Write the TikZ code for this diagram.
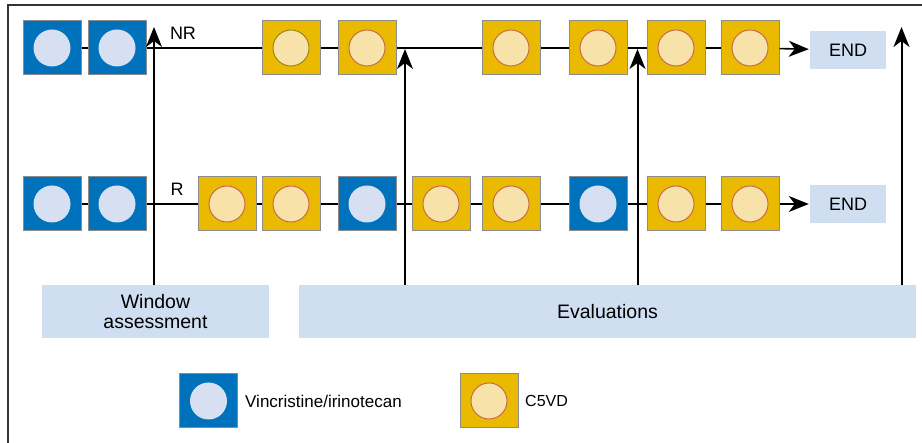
\documentclass[tikz,border=0pt]{standalone}
\usepackage{fontspec}
\setmainfont{Liberation Sans}
\usetikzlibrary{arrows.meta}

\definecolor{vblue}{RGB}{0,114,187}
\definecolor{vlight}{RGB}{214,224,242}
\definecolor{cgold}{RGB}{234,186,0}
\definecolor{clight}{RGB}{247,226,170}
\definecolor{cring}{RGB}{200,96,74}
\definecolor{cringolive}{RGB}{150,125,20}
\definecolor{boxfill}{RGB}{207,222,240}
\definecolor{sqedge}{RGB}{140,140,140}

\tikzset{
  sqnode/.style={draw=sqedge, line width=1pt, minimum width=58pt, minimum height=54pt, inner sep=0pt},
  vi/.style={sqnode, fill=vblue,
    path picture={\fill[vlight] (path picture bounding box.center) circle (18.5pt);}},
  cv/.style={sqnode, fill=cgold,
    path picture={\filldraw[fill=clight, draw=#1, line width=0.9pt] (path picture bounding box.center) circle (18pt);}},
  cv/.default=cring,
  endbox/.style={fill=boxfill, minimum width=76pt, minimum height=38pt, inner sep=0pt,
    font=\fontsize{18}{20}\selectfont},
  evbox/.style={fill=boxfill, minimum height=53pt, inner sep=0pt, align=center,
    font=\fontsize{19.5}{22}\selectfont},
  link/.style={line width=1.6pt},
  head/.style={-{Stealth[length=20pt,width=16pt,inset=6pt]}},
  tip/.style={line width=1.6pt, head},
  varrow/.style={line width=2pt, head},
  lbl/.style={font=\fontsize{18}{20}\selectfont, inner sep=0pt},
  legend/.style={inner sep=0pt, anchor=west},
}

\begin{document}
\begin{tikzpicture}[x=1pt, y=-1pt]
  \useasboundingbox (0,0) rectangle (922,443);

  % outer frame (top and left edges)
  \draw[line width=1.3pt, black!80] (8,443) -- (8,5) -- (922,5);

  % assessment boxes
  \node[evbox, minimum width=227pt] (win) at (155.5,311.5) {Window\\[-2pt]assessment};
  \node[evbox, minimum width=617pt] (eval) at (607.5,311.5) {Evaluations};

  % end boxes
  \node[endbox] (end1) at (848,50) {END};
  \node[endbox] (end2) at (848,204) {END};

  % non-responder arm
  \node[vi] (a1) at (52,48) {};
  \node[vi] (a2) at (117,48) {};
  \node[cv=cringolive] (a3) at (291,48) {};
  \node[cv] (a4) at (367,48) {};
  \node[cv] (a5) at (511,48) {};
  \node[cv] (a6) at (598,48) {};
  \node[cv] (a7) at (676,48) {};
  \node[cv] (a8) at (750,48) {};

  % responder arm
  \node[vi] (b1) at (52,204) {};
  \node[vi] (b2) at (117,204) {};
  \node[cv] (b3) at (227,204) {};
  \node[cv] (b4) at (291,204) {};
  \node[vi] (b5) at (367,204) {};
  \node[cv] (b6) at (441,204) {};
  \node[cv] (b7) at (511,204) {};
  \node[vi] (b8) at (598,204) {};
  \node[cv] (b9) at (676,204) {};
  \node[cv] (b10) at (750,204) {};

  % chain links
  \foreach \p/\q in {a1/a2,a2/a3,a3/a4,a4/a5,a5/a6,a6/a7,a7/a8,
                     b1/b2,b2/b3,b3/b4,b4/b5,b5/b6,b6/b7,b7/b8,b8/b9,b9/b10}
    \draw[link] (\p) -- (\q);
  \draw[tip, shorten >=1pt] (a8) -- (end1);
  \draw[tip, shorten >=1pt] (b10) -- (end2);

  % arm labels
  \node[lbl] (nr) at (183,33) {NR};
  \node[lbl] (r) at (177,189) {R};

  % assessment arrows
  \coordinate (w1) at (154,27);
  \coordinate (e1) at (405,49);
  \coordinate (e2) at (637.5,49);
  \coordinate (e3) at (901.5,27);
  \draw[varrow] (win.north -| w1) -- (w1);
  \draw[varrow] (eval.north -| e1) -- (e1);
  \draw[varrow] (eval.north -| e2) -- (e2);
  \draw[varrow] (eval.north -| e3) -- (e3);

  % legend
  \node[vi] (k1) at (208.5,401) {};
  \node[legend, font=\fontsize{17}{19}\selectfont] (k1t) at (245,401) {Vincristine/irinotecan};
  \node[cv] (k2) at (489,401) {};
  \node[legend, font=\fontsize{16}{18}\selectfont] (k2t) at (525,401) {C5VD};
\end{tikzpicture}
\end{document}
